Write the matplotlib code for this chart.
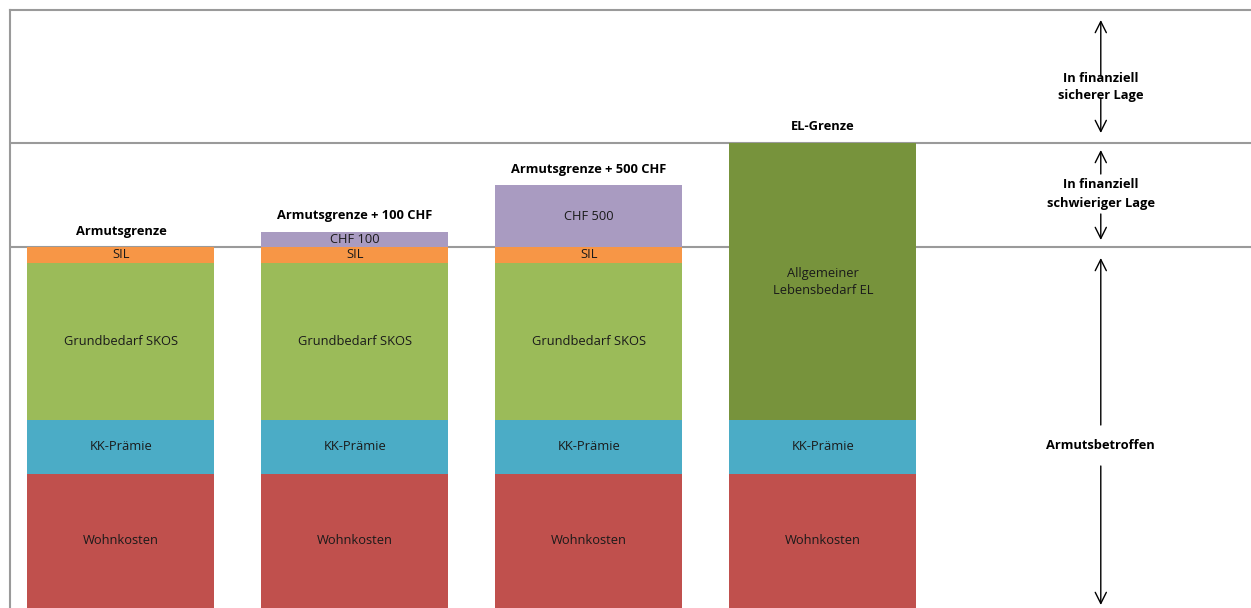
import numpy as np
import matplotlib
matplotlib.use('Agg')
import matplotlib.pyplot as plt

plt.rcParams['font.family'] = ['Open Sans', 'DejaVu Sans']

# data (heights, arbitrary units)
bar_titles = ['Armutsgrenze', 'Armutsgrenze + 100 CHF', 'Armutsgrenze + 500 CHF', 'EL-Grenze']
wohnkosten = [134, 134, 134, 134]
kk_praemie = [54, 54, 54, 54]
grundbedarf = [157, 157, 157, 0]
sil = [16, 16, 16, 0]
zuschlag = [0, 15, 62, 0]
el_bedarf = [0, 0, 0, 277]
zuschlag_labels = ['', 'CHF 100', 'CHF 500', '']

segments = [
    ('Wohnkosten', wohnkosten, '#C0504D'),
    ('KK-Prämie', kk_praemie, '#4BACC6'),
    ('Grundbedarf SKOS', grundbedarf, '#9BBB59'),
    ('SIL', sil, '#F79646'),
    (None, zuschlag, '#A99BC1'),
    ('Allgemeiner\nLebensbedarf EL', el_bedarf, '#77933C'),
]

fig = plt.figure(figsize=(12.51, 6.08), dpi=100)
ax = fig.add_axes([10 / 1251, 0, 1 - 10 / 1251, 598 / 608])

x = np.arange(len(bar_titles))
bottom = np.zeros(len(x))
for name, vals, col in segments:
    vals = np.array(vals, dtype=float)
    ax.bar(x, vals, 0.8, bottom=bottom, color=col, zorder=3)
    for i, v in enumerate(vals):
        if v <= 0:
            continue
        lab = name if name else zuschlag_labels[i]
        ax.text(x[i], bottom[i] + v / 2, lab, ha='center', va='center',
                fontsize=9.3, color='#1a1a1a', zorder=4, linespacing=1.4)
    bottom += vals

# titles above bars
for i, t in enumerate(bar_titles):
    ax.text(x[i], bottom[i] + 16, t, ha='center', va='center',
            fontsize=9.3, fontweight='bold', zorder=4)

# limit lines
armut = bottom[0]
el_grenze = bottom[3]
ax.axhline(armut, color='#9a9a9a', lw=1.5, zorder=2)
ax.axhline(el_grenze, color='#9a9a9a', lw=1.5, zorder=2)

ax.set_xlim(-0.474, 4.83)
ax.set_ylim(0, 598)

# right hand side annotations
xa = 4.188
zones = [
    ('In finanziell\nsicherer Lage', 588, 532, 510, 475),
    ('In finanziell\nschwieriger Lage', 458, 434, 394, 368),
    ('Armutsbetroffen', 350, 183, 142, 3),
]
for txt, top, t_top, t_bot, bot in zones:
    ax.text(xa, (t_top + t_bot) / 2, txt, ha='center', va='center',
            fontsize=9.3, fontweight='bold', linespacing=1.5)
    ax.annotate('', xy=(xa, top), xytext=(xa, t_top),
                arrowprops=dict(arrowstyle='->', lw=1, color='black',
                                mutation_scale=20, shrinkA=0, shrinkB=0))
    ax.annotate('', xy=(xa, bot), xytext=(xa, t_bot),
                arrowprops=dict(arrowstyle='->', lw=1, color='black',
                                mutation_scale=20, shrinkA=0, shrinkB=0))

ax.set_xticks([])
ax.set_yticks([])
ax.spines['right'].set_visible(False)
ax.spines['bottom'].set_visible(False)
for s in ['left', 'top']:
    ax.spines[s].set_color('#9a9a9a')
    ax.spines[s].set_linewidth(1.5)

plt.savefig('out.png', dpi=100)
